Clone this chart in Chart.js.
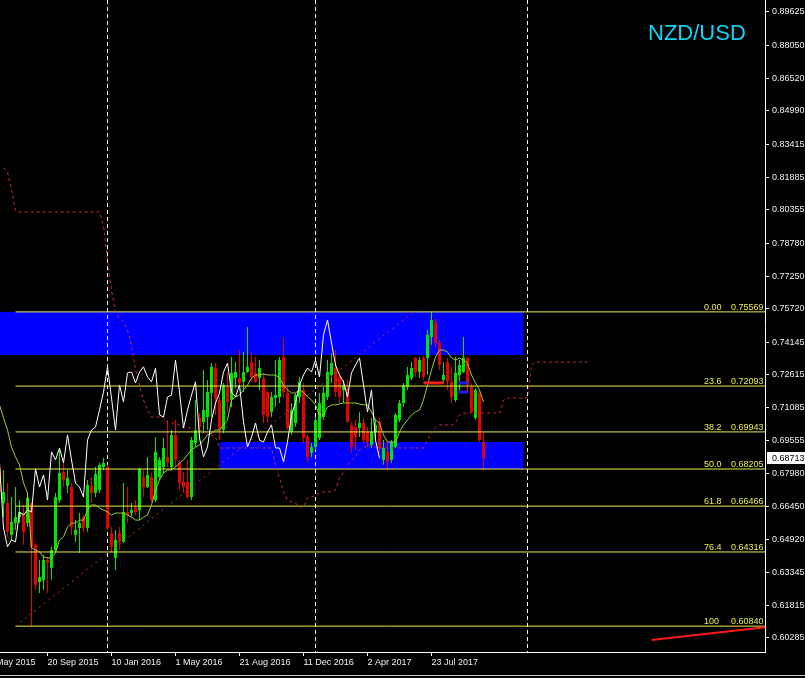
<!DOCTYPE html>
<html lang="en">
<head>
<meta charset="UTF-8">
<title>NZD/USD Weekly</title>
<script src="https://cdn.jsdelivr.net/npm/chart.js"></script>
<style>
    html, body { margin: 0; padding: 0; background: #000; }
    #wrap { position: relative; width: 805px; height: 678px; }
</style>
</head>
<body>
<div id="wrap"><canvas id="chart"></canvas></div>
<script>
    // weekly candles, oldest first (the first one is cut by the left edge)
    var opens = [0.6826,0.6661,0.6661,0.6512,0.6567,0.6595,0.6614,0.6567,0.6661,0.6465,
        0.6291,0.6300,0.6394,0.6357,0.6441,0.6675,0.6807,0.6741,0.6736,0.6512,
        0.6544,0.6595,0.6544,0.6741,0.6708,0.6722,0.6830,0.6830,0.6521,0.6404,
        0.6521,0.6479,0.6619,0.6614,0.6642,0.6628,0.6783,0.6736,0.6783,0.6675,
        0.6783,0.6830,0.6877,0.6830,0.6980,0.6849,0.6760,0.6760,0.6689,0.6942,
        0.7060,0.7041,0.7064,0.7177,0.7294,0.7144,0.7003,0.7205,0.7144,0.7247,
        0.7247,0.7229,0.7275,0.7322,0.7271,0.7247,0.7247,0.7181,0.7088,0.7153,
        0.7158,0.7345,0.7177,0.6994,0.7036,0.7158,0.7191,0.6970,0.6896,0.6924,
        0.6966,0.7064,0.7158,0.7261,0.7294,0.7252,0.7191,0.7200,0.7027,0.7017,
        0.7013,0.7036,0.6994,0.6933,0.6994,0.7041,0.6863,0.6901,0.6863,0.6924,
        0.7050,0.7130,0.7205,0.7247,0.7341,0.7275,0.7341,0.7341,0.7439,0.7509,
        0.7411,0.7238,0.7322,0.7229,0.7144,0.7261,0.7275,0.7341,0.7205,0.7060,
        0.7177,0.6947];
    var highs = [0.6863,0.6816,0.6755,0.6689,0.6736,0.6675,0.6652,0.6708,0.6666,0.6474,
        0.6394,0.6418,0.6408,0.6456,0.6708,0.6910,0.6873,0.6816,0.6755,0.6581,
        0.6614,0.6605,0.6769,0.6783,0.6830,0.6849,0.6873,0.6840,0.6549,0.6535,
        0.6549,0.6755,0.6736,0.6661,0.6675,0.6826,0.6816,0.6877,0.6802,0.6970,
        0.6877,0.6966,0.7050,0.7003,0.7050,0.6863,0.6807,0.6863,0.6970,0.7144,
        0.7083,0.7285,0.7238,0.7317,0.7317,0.7158,0.7224,0.7271,0.7345,0.7322,
        0.7378,0.7369,0.7486,0.7369,0.7345,0.7331,0.7271,0.7191,0.7181,0.7331,
        0.7345,0.7434,0.7205,0.7130,0.7177,0.7252,0.7224,0.6980,0.6942,0.7064,
        0.7177,0.7205,0.7331,0.7364,0.7378,0.7271,0.7238,0.7238,0.7041,0.7050,
        0.7088,0.7060,0.7017,0.7060,0.7050,0.7060,0.6956,0.6947,0.6956,0.7083,
        0.7144,0.7224,0.7299,0.7322,0.7345,0.7345,0.7350,0.7472,0.7557,0.7528,
        0.7425,0.7322,0.7341,0.7299,0.7345,0.7331,0.7439,0.7345,0.7224,0.7200,
        0.7191,0.6994];
    var lows = [0.6699,0.6595,0.6502,0.6488,0.6535,0.6567,0.6465,0.6549,0.6084,0.6253,
        0.6239,0.6253,0.6239,0.6300,0.6427,0.6661,0.6736,0.6708,0.6512,0.6479,
        0.6427,0.6521,0.6526,0.6661,0.6689,0.6708,0.6816,0.6535,0.6432,0.6347,
        0.6441,0.6474,0.6567,0.6595,0.6605,0.6581,0.6689,0.6732,0.6666,0.6666,
        0.6769,0.6802,0.6830,0.6816,0.6830,0.6722,0.6708,0.6685,0.6675,0.6924,
        0.6970,0.6989,0.7003,0.7064,0.7074,0.6956,0.6989,0.7088,0.7111,0.7200,
        0.7205,0.7181,0.7271,0.7229,0.7224,0.7191,0.7036,0.7036,0.7064,0.7111,
        0.7130,0.7153,0.7003,0.6980,0.7017,0.7130,0.6942,0.6854,0.6877,0.6910,
        0.6956,0.7050,0.7144,0.7224,0.7158,0.7130,0.7130,0.7036,0.6896,0.6910,
        0.6970,0.6942,0.6924,0.6919,0.6956,0.6896,0.6840,0.6816,0.6849,0.6919,
        0.7041,0.7111,0.7191,0.7238,0.7252,0.7247,0.7238,0.7261,0.7402,0.7392,
        0.7285,0.7224,0.7191,0.7130,0.7135,0.7191,0.7271,0.7177,0.7083,0.7050,
        0.6947,0.6816];
    var closes = [0.6713,0.6713,0.6526,0.6572,0.6595,0.6619,0.6526,0.6685,0.6456,0.6277,
        0.6314,0.6394,0.6380,0.6441,0.6689,0.6802,0.6769,0.6779,0.6549,0.6535,
        0.6567,0.6544,0.6746,0.6708,0.6797,0.6840,0.6849,0.6544,0.6456,0.6488,
        0.6479,0.6619,0.6605,0.6628,0.6619,0.6821,0.6736,0.6793,0.6675,0.6901,
        0.6863,0.6919,0.6849,0.6980,0.6863,0.6755,0.6736,0.6689,0.6956,0.7003,
        0.7017,0.7097,0.7181,0.7299,0.7153,0.7003,0.7214,0.7135,0.7271,0.7275,
        0.7224,0.7275,0.7299,0.7252,0.7229,0.7294,0.7074,0.7064,0.7158,0.7167,
        0.7331,0.7181,0.7013,0.7097,0.7167,0.7229,0.6966,0.6877,0.6924,0.7050,
        0.7130,0.7177,0.7275,0.7317,0.7181,0.7158,0.7214,0.7041,0.6924,0.6970,
        0.7036,0.6956,0.6947,0.6994,0.7027,0.6919,0.6919,0.6854,0.6947,0.7074,
        0.7130,0.7214,0.7261,0.7294,0.7275,0.7331,0.7252,0.7449,0.7519,0.7411,
        0.7308,0.7261,0.7229,0.7158,0.7271,0.7308,0.7341,0.7214,0.7088,0.7191,
        0.6956,0.68713];

    // green line (tenkan), one value per candle
    var tenkan = [0.7121,0.7060,0.7003,0.6923,0.6877,0.6840,0.6755,0.6708,0.6451,0.6441,
        0.6432,0.6408,0.6404,0.6404,0.6427,0.6488,0.6502,0.6549,0.6567,0.6567,
        0.6581,0.6581,0.6628,0.6652,0.6652,0.6637,0.6628,0.6619,0.6605,0.6614,
        0.6614,0.6614,0.6605,0.6595,0.6581,0.6581,0.6595,0.6605,0.6652,0.6722,
        0.6769,0.6802,0.6816,0.6816,0.6830,0.6849,0.6863,0.6887,0.6910,0.6923,
        0.6933,0.6956,0.6980,0.6989,0.7003,0.7003,0.7027,0.7050,0.7144,0.7158,
        0.7167,0.7191,0.7214,0.7247,0.7261,0.7261,0.7266,0.7261,0.7261,0.7261,
        0.7247,0.7214,0.7191,0.7177,0.7177,0.7191,0.7181,0.7158,0.7144,0.7121,
        0.7074,0.7074,0.7111,0.7121,0.7121,0.7125,0.7130,0.7130,0.7130,0.7130,
        0.7125,0.7121,0.7121,0.7088,0.7050,0.7036,0.6980,0.6947,0.6947,0.6947,
        0.6994,0.7027,0.7050,0.7074,0.7088,0.7097,0.7144,0.7214,0.7285,0.7345,
        0.7378,0.7378,0.7369,0.7341,0.7331,0.7341,0.7331,0.7317,0.7261,0.7224,
        0.7191,0.7135];

    // red dashed line (senkou B), runs 26 weeks past the last candle
    var senkouB = [null,0.8231,0.8212,0.8128,0.8034,
        0.8025,0.8025,0.8025,0.8025,0.8025,0.8025,0.8025,0.8025,0.8025,0.8025,0.8025,
        0.8025,0.8025,0.8025,0.8025,0.8025,0.8025,0.8025,0.8025,0.8025,0.8025,
        0.7964,0.7800,0.7659,0.7556,0.7528,0.7509,0.7472,0.7402,0.7285,0.7214,
        0.7144,0.7097,0.7064,0.7064,0.7064,0.7064,0.7036,0.7036,0.7036,0.7027,
        0.7013,0.7013,0.7013,0.7013,0.7003,0.6994,0.6989,0.6980,0.6970,
        0.6919,0.6919,0.6919,0.6919,0.6919,0.6919,0.6919,0.6919,0.6919,0.6919,0.6919,0.6919,0.6919,0.6919,
        0.6840,0.6779,0.6713,0.6675,0.6666,0.6661,0.6642,0.6642,0.6685,0.6689,
        0.6699,0.6708,0.6713,0.6713,0.6713,0.6722,0.6779,0.6807,0.6840,0.6863,
        0.6877,0.6910,0.6919,0.6933,0.6933,
        0.6919,0.6919,0.6919,0.6919,0.6919,0.6919,0.6919,0.6919,0.6919,0.6919,0.6919,0.6919,0.6919,
        0.6956,0.6989,0.7017,0.7027,0.7027,0.7027,0.7027,0.7036,0.7074,
        0.7083,0.7083,0.7083,0.7083,0.7083,0.7083,0.7083,0.7083,0.7083,0.7083,
        0.7144,0.7153,0.7153,0.7153,0.7153,0.7153,0.7153,0.7308,
        0.7322,0.7322,0.7322,0.7322,0.7322,0.7322,0.7322,0.7322,0.7322,0.7322,0.7322,0.7322,0.7322,0.7322];

    var chikouShift = 26;

    // fibonacci retracement
    var fibLevels = [0.75569, 0.72093, 0.69943, 0.68205, 0.66466, 0.64316, 0.60840];
    var fibNames = ['0.00', '23.6', '38.2', '50.0', '61.8', '76.4', '100'];
    var fibFromX = [4, 103.5];
    var fibFromY = [0.60840, 0.75569];

    // blue zones
    var zoneTop = [0.75569, 0.6947];
    var zoneBottom = [0.7355, 0.68205];
    var zoneFrom = [-2, 55];
    var zoneTo = [131, 131];

    // small drawn segments and trend line
    var redSegX = [106, 111], redSegY = [0.7224, 0.7224];
    var blueSegX = [114.75, 117], blueSegY1 = [0.7224, 0.7224], blueSegY2 = [0.7181, 0.7181];
    var trendX = [163, 195], trendY = [0.6019, 0.6086];

    var separators = [27, 79, 132];

    var yTicks = [0.89625, 0.88050, 0.86520, 0.84990, 0.83415, 0.81885, 0.80355, 0.78780, 0.77250, 0.75720,
        0.74145, 0.72615, 0.71085, 0.69555, 0.67980, 0.66450, 0.64920, 0.63345, 0.61815, 0.60285];
    var xTickPos = [-4, 12, 28, 44, 60, 76, 92, 108];
    var xTickLabels = ['31 May 2015', '20 Sep 2015', '10 Jan 2016', '1 May 2016', '21 Aug 2016',
        '11 Dec 2016', '2 Apr 2017', '23 Jul 2017'];

    var bull = '#00e600';
    var bear = '#e60000';
    var fibColor = '#ecec50';

    Chart.defaults.font.family = '"Liberation Sans", Arial, sans-serif';
    Chart.defaults.font.size = 9;
    Chart.defaults.color = '#f0f0f0';

    var candleColors = closes.map(function(c, i) { return c >= opens[i] ? bull : bear; });

    function seg(xs, ys) {
        return [{x: xs[0], y: ys[0]}, {x: xs[1], y: ys[1]}];
    }

    function lineSet(data, color, width, dash, order) {
        return {
            type: 'line', data: data, borderColor: color, borderWidth: width,
            borderDash: dash || [], pointRadius: 0, tension: 0, fill: false,
            spanGaps: true, order: order
        };
    }

    var datasets = [];
    datasets.push({
        type: 'bar',
        data: opens.map(function(o, i) { return {x: i, y: [lows[i], highs[i]]}; }),
        backgroundColor: candleColors, borderWidth: 0, barThickness: 1,
        grouped: false, inflateAmount: 0, order: 40
    });
    datasets.push({
        type: 'bar',
        data: opens.map(function(o, i) { return {x: i, y: [o, closes[i]]}; }),
        backgroundColor: candleColors, borderWidth: 0, barThickness: 3, minBarLength: 1,
        grouped: false, inflateAmount: 0, order: 30
    });
    fibLevels.forEach(function(lvl) {
        datasets.push(lineSet(seg([fibFromX[0], 220], [lvl, lvl]), fibColor, 1, null, 25));
    });
    datasets.push(lineSet(seg(fibFromX, fibFromY), '#c43232', 1, [2, 4], 24));
    datasets.push(lineSet(senkouB.map(function(v, i) { return {x: i, y: v}; }), '#c43232', 1, [3, 3], 20));
    datasets.push(lineSet(tenkan.map(function(v, i) { return {x: i, y: v}; }), '#9acd32', 1, null, 15));
    datasets.push(lineSet(closes.slice(chikouShift).map(function(v, i) { return {x: i, y: v}; }), '#ffffff', 1, null, 10));
    datasets.push(lineSet(seg(redSegX, redSegY), '#ff1a1a', 3, null, 6));
    datasets.push(lineSet(seg(blueSegX, blueSegY1), '#1a1aff', 3, null, 6));
    datasets.push(lineSet(seg(blueSegX, blueSegY2), '#1a1aff', 3, null, 6));
    datasets.push(lineSet(seg(trendX, trendY), '#ff1a1a', 2, null, 5));

    var backPlugin = {
        id: 'back',
        beforeDraw: function(chart) {
            var ctx = chart.ctx;
            ctx.save();
            ctx.fillStyle = '#000';
            ctx.fillRect(0, 0, chart.width, chart.height);
            ctx.restore();
        },
        beforeDatasetsDraw: function(chart) {
            var ctx = chart.ctx, a = chart.chartArea;
            var xs = chart.scales.x, ys = chart.scales.y;
            ctx.save();
            ctx.beginPath();
            ctx.rect(a.left, a.top, a.right - a.left, a.bottom - a.top);
            ctx.clip();
            ctx.fillStyle = '#0000ff';
            for (var i = 0; i < zoneTop.length; i++) {
                var x0 = xs.getPixelForValue(zoneFrom[i]);
                var x1 = xs.getPixelForValue(zoneTo[i]);
                var y0 = ys.getPixelForValue(zoneTop[i]);
                var y1 = ys.getPixelForValue(zoneBottom[i]);
                ctx.fillRect(x0, y0, x1 - x0, y1 - y0);
            }
            ctx.strokeStyle = '#ffffff';
            ctx.lineWidth = 1;
            ctx.setLineDash([4, 3]);
            separators.forEach(function(s) {
                var px = xs.getPixelForValue(s);
                ctx.beginPath();
                ctx.moveTo(px, a.top);
                ctx.lineTo(px, a.bottom);
                ctx.stroke();
            });
            ctx.restore();
        },
        afterDatasetsDraw: function(chart) {
            var ctx = chart.ctx, a = chart.chartArea, ys = chart.scales.y;
            ctx.save();
            ctx.beginPath();
            ctx.rect(a.left, a.top, a.right - a.left, a.bottom - a.top);
            ctx.clip();
            ctx.fillStyle = fibColor;
            ctx.font = '9px "Liberation Sans", Arial, sans-serif';
            ctx.textBaseline = 'alphabetic';
            ctx.textAlign = 'left';
            fibLevels.forEach(function(lvl, i) {
                var y = ys.getPixelForValue(lvl) - 2;
                ctx.fillText(fibNames[i], a.right - 61, y);
                ctx.fillText(lvl.toFixed(5), a.right - 34, y);
            });
            // title
            ctx.fillStyle = '#14d2f5';
            ctx.font = '22px "Liberation Sans", Arial, sans-serif';
            ctx.fillText('NZD/USD', a.right - 117, 40);
            ctx.restore();
        },
        afterDraw: function(chart) {
            var ctx = chart.ctx, a = chart.chartArea, ys = chart.scales.y;
            var last = closes[closes.length - 1];
            var y = Math.round(ys.getPixelForValue(last));
            ctx.save();
            ctx.fillStyle = '#ffffff';
            ctx.fillRect(a.right + 2, y - 6, chart.width - a.right - 2, 12);
            ctx.fillStyle = '#000000';
            ctx.font = '9px "Liberation Sans", Arial, sans-serif';
            ctx.textBaseline = 'middle';
            ctx.fillText(last.toFixed(5), a.right + 7, y + 0.5);
            ctx.strokeStyle = '#c8c8c8';
            ctx.lineWidth = 1;
            ctx.beginPath();
            ctx.moveTo(0, chart.height - 2.5);
            ctx.lineTo(chart.width, chart.height - 2.5);
            ctx.stroke();
            ctx.restore();
        }
    };

    new Chart(document.getElementById('chart'), {
        type: 'bar',
        data: {datasets: datasets},
        options: {
            responsive: true,
            maintainAspectRatio: false,
            animation: false,
            layout: {padding: 0},
            plugins: {legend: {display: false}, tooltip: {enabled: false}},
            scales: {
                x: {
                    type: 'linear',
                    min: 0.125,
                    max: 191.375,
                    offset: false,
                    grid: {display: true, drawOnChartArea: false, drawTicks: true, tickLength: 4, color: '#ffffff', offset: false},
                    border: {display: true, color: '#ffffff'},
                    ticks: {
                        autoSkip: false, maxRotation: 0, align: 'start', padding: 1, color: '#f0f0f0',
                        callback: function(v, i) { return xTickLabels[i]; }
                    },
                    afterBuildTicks: function(s) {
                        s.ticks = xTickPos.map(function(v) { return {value: v}; });
                    },
                    afterFit: function(s) {
                        s.height = 26;
                        s.paddingLeft = 0;
                        s.paddingRight = 0;
                    }
                },
                y: {
                    type: 'linear',
                    position: 'right',
                    min: 0.59628,
                    max: 0.90187,
                    grid: {display: true, drawOnChartArea: false, drawTicks: true, tickLength: 4, color: '#ffffff'},
                    border: {display: true, color: '#ffffff'},
                    ticks: {
                        autoSkip: false, padding: 3, color: '#f0f0f0',
                        callback: function(v) { return v.toFixed(5); }
                    },
                    afterBuildTicks: function(s) {
                        s.ticks = yTicks.map(function(v) { return {value: v}; });
                    },
                    afterFit: function(s) {
                        s.width = 40;
                        s.paddingTop = 0;
                        s.paddingBottom = 0;
                    }
                }
            }
        },
        plugins: [backPlugin]
    });
</script>
</body>
</html>
